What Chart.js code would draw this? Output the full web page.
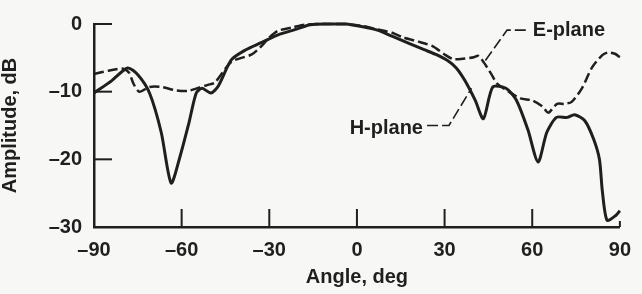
<!DOCTYPE html>
<html lang="en">
<head>
<meta charset="UTF-8" />
<title>Radiation pattern</title>
<script src="https://cdn.jsdelivr.net/npm/chart.js"></script>
<style>
  html, body { margin: 0; padding: 0; background: #f7f7f5; }
  #wrap { width: 642px; height: 294px; }
</style>
</head>
<body>
<div id="wrap"><canvas id="patternChart"></canvas></div>
<script>
// H-plane (solid) amplitude, dB vs angle, deg
const hAngle = [-90, -84, -78.5, -75, -71, -67, -63.6, -60.5, -57.5, -55, -53, -50, -47.5, -43, -38, -33, -27, -21, -16, -10, -4, 2, 7, 12, 18, 23, 27, 31, 34, 37, 40.5, 43.3, 46.5, 51, 54.5, 58.5, 62, 65, 68.3, 72, 74.5, 78, 81, 83, 84, 85.6, 88.6, 90];
const hAmp   = [-10.2, -8.4, -6.5, -7.5, -10.2, -16, -23.5, -19.5, -14.6, -10.2, -9.5, -10.2, -9.2, -5.3, -3.8, -2.8, -1.6, -0.8, -0.1, 0, 0, -0.4, -0.9, -1.8, -2.9, -3.8, -4.5, -5.4, -6.5, -8.4, -11.3, -14, -9.3, -9.5, -11.2, -15.6, -20.4, -16, -13.8, -13.8, -13.4, -14.3, -17, -20, -24.7, -29, -28.3, -27.6];

// E-plane (dashed)
const eAngle = [-90, -85, -80, -78, -76.5, -74.5, -71, -67, -62, -58, -54, -51, -48.5, -43, -36, -33, -30, -27, -22, -18, -10, -4, 2, 7, 12, 16, 21, 26, 30, 33, 37, 40, 41.5, 43.3, 46, 48, 52, 56, 60, 63.5, 65.5, 68.5, 71, 73.5, 77, 80.5, 84, 86, 88.3, 90];
const eAmp   = [-7.4, -6.9, -6.6, -7.2, -8.8, -10, -9.3, -9.3, -9.8, -9.9, -9.4, -9, -8.6, -5.6, -4.5, -3.4, -2, -1, -0.5, -0.1, 0, 0, -0.3, -0.8, -1.3, -2, -2.6, -3.3, -4.5, -5.2, -5.1, -4.9, -4.7, -5.6, -7.4, -8.8, -10, -11, -11.3, -12.2, -13.1, -11.8, -11.8, -11.5, -9.5, -6.4, -4.6, -4.2, -4.4, -4.9];

const xTicks = [-90, -60, -30, 0, 30, 60, 90];
const yTicks = [0, -10, -20, -30];

const ink = '#1f1f1f';
const font = '"Liberation Sans", Arial, sans-serif';

// curve labels with leader lines (in data coordinates)
const curveLabels = [
  { text: 'E-plane', at: [60.2, -1.0], leader: [[57.8, -0.9], [51.4, -0.9], [43.6, -5.6]] },
  { text: 'H-plane', at: [-2.5, -15.4], leader: [[24.0, -15.0], [31.5, -15.0], [39.2, -9.5]] }
];

const fmt = v => (v < 0 ? '\u2013' + Math.abs(v) : String(v));

const decorations = {
  id: 'decorations',
  afterDatasetsDraw(chart) {
    const { ctx, scales: { x, y } } = chart;
    ctx.save();
    ctx.strokeStyle = ink;
    ctx.lineWidth = 2;
    // inward tick marks
    yTicks.forEach(v => {
      if (v === -30) return;
      const py = y.getPixelForValue(v);
      ctx.beginPath(); ctx.moveTo(x.left, py); ctx.lineTo(x.left + 18, py); ctx.stroke();
    });
    xTicks.forEach(v => {
      if (v === -90) return;
      const px = x.getPixelForValue(v);
      const len = v === 90 ? 6 : 18;
      ctx.beginPath(); ctx.moveTo(px, y.bottom); ctx.lineTo(px, y.bottom - len); ctx.stroke();
    });
    // leaders + text
    ctx.lineWidth = 1.6;
    ctx.setLineDash([11, 4]);
    curveLabels.forEach(l => {
      ctx.beginPath();
      l.leader.forEach((p, i) => {
        const px = x.getPixelForValue(p[0]), py = y.getPixelForValue(p[1]);
        if (i === 0) ctx.moveTo(px, py); else ctx.lineTo(px, py);
      });
      ctx.stroke();
    });
    ctx.setLineDash([]);
    ctx.fillStyle = ink;
    ctx.font = 'bold 20px ' + font;
    ctx.textBaseline = 'middle';
    ctx.textAlign = 'left';
    curveLabels.forEach(l => {
      ctx.fillText(l.text, x.getPixelForValue(l.at[0]), y.getPixelForValue(l.at[1]));
    });
    ctx.restore();
  }
};

const ctx = document.getElementById('patternChart').getContext('2d');
new Chart(ctx, {
  type: 'line',
  data: {
    datasets: [
      {
        label: 'H-plane',
        data: hAngle.map((a, i) => ({ x: a, y: hAmp[i] })),
        borderColor: ink,
        borderWidth: 3,
        pointRadius: 0,
        tension: 0.25,
        clip: false
      },
      {
        label: 'E-plane',
        data: eAngle.map((a, i) => ({ x: a, y: eAmp[i] })),
        borderColor: ink,
        borderWidth: 2.5,
        borderDash: [10, 4],
        pointRadius: 0,
        tension: 0.25,
        clip: false
      }
    ]
  },
  options: {
    responsive: true,
    maintainAspectRatio: false,
    animation: false,
    layout: { padding: { left: 0, right: 16, top: 19, bottom: 0 } },
    plugins: { legend: { display: false }, tooltip: { enabled: false } },
    scales: {
      x: {
        type: 'linear',
        min: -90, max: 90,
        afterBuildTicks: s => { s.ticks = xTicks.map(v => ({ value: v })); },
        afterFit: s => { s.height = 67; },
        grid: { drawOnChartArea: false, drawTicks: false },
        border: { color: ink, width: 2.5 },
        ticks: { color: ink, padding: 11, font: { family: font, size: 20, weight: 'bold' }, callback: fmt, maxRotation: 0 },
        title: { display: true, text: 'Angle, deg', color: ink, font: { family: font, size: 20, weight: 'bold' }, padding: { top: 0, bottom: 5 } }
      },
      y: {
        type: 'linear',
        min: -30, max: 0,
        afterBuildTicks: s => { s.ticks = yTicks.map(v => ({ value: v })); },
        afterFit: s => { s.width = 94; },
        grid: { drawOnChartArea: false, drawTicks: false },
        border: { color: ink, width: 2.5 },
        ticks: { color: ink, padding: 12, font: { family: font, size: 20, weight: 'bold' }, callback: fmt },
        title: { display: true, text: 'Amplitude, dB', color: ink, font: { family: font, size: 20, weight: 'bold', lineHeight: 1 }, padding: 0 }
      }
    }
  },
  plugins: [decorations]
});
</script>
</body>
</html>
